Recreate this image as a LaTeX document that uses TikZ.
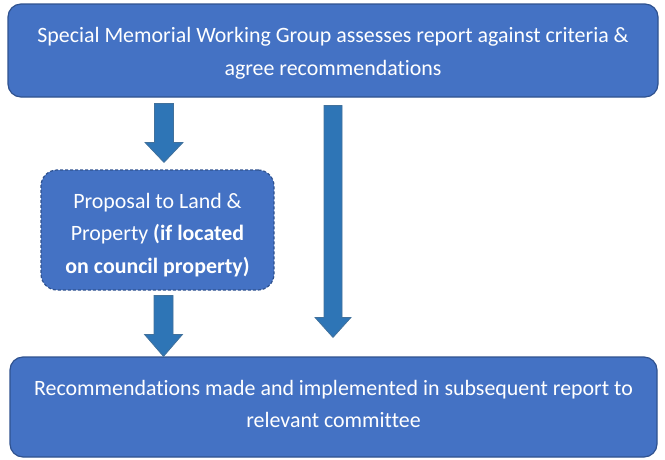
\documentclass[tikz,border=0pt]{standalone}
\usepackage{fontspec}
\setmainfont[Ligatures=NoCommon]{Carlito}
\usetikzlibrary{calc}
\definecolor{boxfill}{HTML}{4472C4}
\definecolor{boxline}{HTML}{2F528F}
\definecolor{arrfill}{HTML}{2E75B6}
\definecolor{arrline}{HTML}{41719C}
\newcommand\shiftedtext[2]{\raisebox{#1}[\height][\depth]{\begin{tabular}{@{}c@{}}#2\end{tabular}}}
\tikzset{
  box/.style={draw=boxline, line width=1.2pt, fill=boxfill, rounded corners=13pt,
    text=white, align=center, inner sep=0pt,
    font=\fontsize{21.9}{32.5}\selectfont},
  dashbox/.style={box, dash pattern=on 3pt off 2pt, rounded corners=16pt},
  barrow/.style={fill=arrfill, draw=arrline, line width=0.8pt}
}
\newcommand\blockarrow[4]{%
  \path[barrow] let \p1=(#1), \p2=(#2) in
    (\x1-#3,\y1) -- (\x1+#3,\y1) -- (\x1+#3,\y2+#4) -- (\x1+2*#3,\y2+#4)
    -- (\x1,\y2) -- (\x1-2*#3,\y2+#4) -- (\x1-#3,\y2+#4) -- cycle;}
\begin{document}
\begin{tikzpicture}[x=1pt,y=-1pt]
\useasboundingbox (0,0) rectangle (665,459);
\node[box, minimum width=650pt, minimum height=93pt] (top) at (333,50.5)
  {\shiftedtext{-2pt}{Special Memorial Working Group assesses report against criteria \&\\agree recommendations}};
\node[dashbox, minimum width=233pt, minimum height=120pt] (mid) at (157.5,230)
  {\shiftedtext{-4pt}{Proposal to Land \&\\Property \textbf{(if located}\\\textbf{on council property)}}};
\node[box, minimum width=647pt, minimum height=100pt] (bot) at (333.5,407)
  {\shiftedtext{2pt}{Recommendations made and implemented in subsequent report to\\relevant committee}};
\coordinate (a1s) at ($(top.south -| mid.north)+(6.5,6)$);
\coordinate (a1e) at ($(mid.north)+(6.5,-7)$);
\coordinate (a2s) at ($(mid.south)+(6,5)$);
\coordinate (a2e) at (bot.north -| a2s);
\coordinate (a3s) at ($(top.south)+(0,8)$);
\coordinate (a3e) at ($(bot.north)+(0,-19)$);
\blockarrow{a1s}{a1e}{9.5pt}{20pt}
\blockarrow{a2s}{a2e}{9.5pt}{22pt}
\blockarrow{a3s}{a3e}{9pt}{20pt}
\end{tikzpicture}
\end{document}
